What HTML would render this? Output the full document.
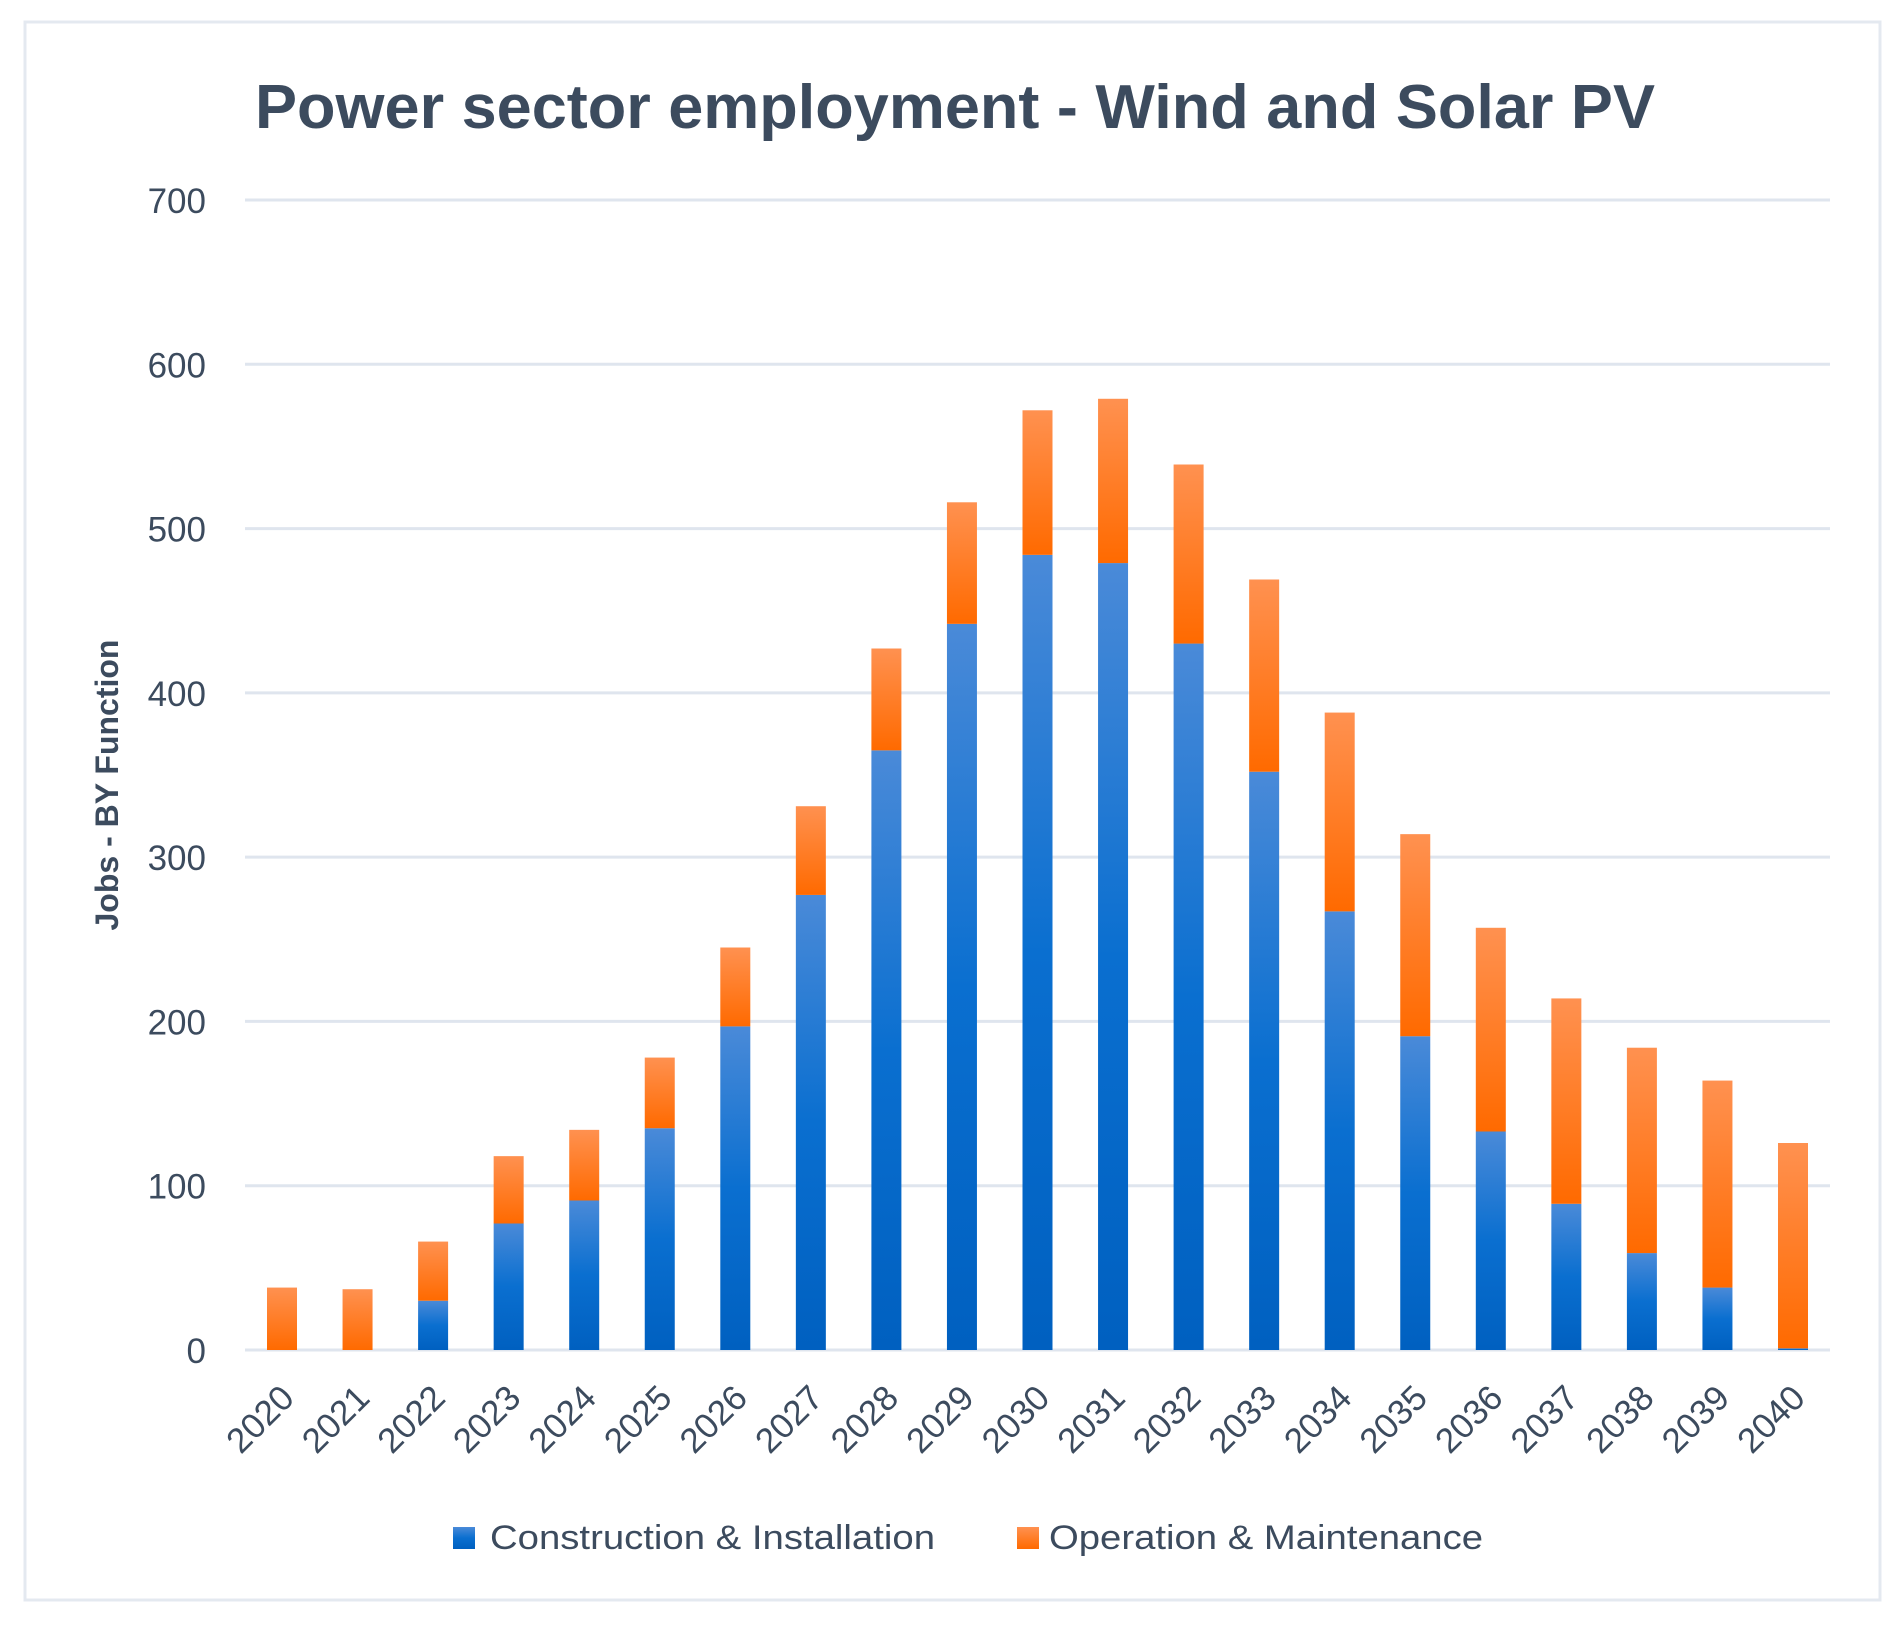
<!DOCTYPE html>
<html><head><meta charset="utf-8"><style>
html,body{margin:0;padding:0;background:#fff;}
svg{display:block;font-family:"Liberation Sans",sans-serif;}
</style></head><body>
<svg id="chart" width="1901" height="1625">
<defs>
<linearGradient id="gb" x1="0" y1="0" x2="0" y2="1"><stop offset="0" stop-color="#4a8ad8"/><stop offset="0.5" stop-color="#0a6fd0"/><stop offset="1" stop-color="#0060c0"/></linearGradient>
<linearGradient id="go" x1="0" y1="0" x2="0" y2="1"><stop offset="0" stop-color="#ff9150"/><stop offset="1" stop-color="#ff6a00"/></linearGradient>
</defs>
<rect x="25" y="22" width="1855" height="1578" fill="#fff" stroke="#e4e9f0" stroke-width="3"/>
<text x="255" y="128" font-size="62" font-weight="bold" fill="#3c4b5e" textLength="1400" lengthAdjust="spacingAndGlyphs">Power sector employment - Wind and Solar PV</text>
<text transform="translate(118,785) rotate(-90)" text-anchor="middle" font-size="32" font-weight="bold" fill="#3c4b5e">Jobs - BY Function</text>
<g id="grid"></g><g id="bars"></g><g id="xlabels"></g>
<rect x="453" y="1527" width="22" height="22" fill="url(#gb)"/>
<text x="490" y="1549" font-size="34" fill="#3c4b5e" textLength="445" lengthAdjust="spacingAndGlyphs">Construction &amp; Installation</text>
<rect x="1017" y="1527" width="22" height="22" fill="url(#go)"/>
<text x="1049" y="1549" font-size="34" fill="#3c4b5e" textLength="434" lengthAdjust="spacingAndGlyphs">Operation &amp; Maintenance</text>
</svg>
<script>
const categories = ["2020","2021","2022","2023","2024","2025","2026","2027","2028","2029","2030","2031","2032","2033","2034","2035","2036","2037","2038","2039","2040"];
const construction = [0,0,30,77,91,135,197,277,365,442,484,479,430,352,267,191,133,89,59,38,1];
const operation = [38,37,36,41,43,43,48,54,62,74,88,100,109,117,121,123,124,125,125,126,125];
const yTicks = [0,100,200,300,400,500,600,700];

const NS = "http://www.w3.org/2000/svg";
const y0 = 1350, yTop = 200, yMax = 700, xLeft = 245, xRight = 1830;
const x0 = 282, step = (1793 - 282) / 20, bw = 30;
function yScale(v){ return y0 - (v / yMax) * (y0 - yTop); }
function xScale(i){ return x0 + i * step; }
function mk(tag, attrs){ const e = document.createElementNS(NS, tag); for (const k in attrs) e.setAttribute(k, attrs[k]); return e; }

const grid = document.getElementById('grid');
yTicks.forEach(t => {
  const l = mk('line', {x1: xLeft, x2: xRight, y1: yScale(t), y2: yScale(t), stroke: '#dfe5ee', 'stroke-width': 3});
  
  
  grid.appendChild(l);
  const tx = mk('text', {x: 206, y: yScale(t) + 13, 'text-anchor': 'end', 'font-size': 35, fill: '#3c4b5e'});
  tx.textContent = t;
  
  
  grid.appendChild(tx);
});

const bars = document.getElementById('bars');
const xl = document.getElementById('xlabels');
categories.forEach((c, i) => {
  const cx = xScale(i);
  const yc = yScale(construction[i]);
  const b = mk('rect', {x: cx - bw/2, y: yc, width: bw, height: y0 - yc, fill: 'url(#gb)'});
  
  
  bars.appendChild(b);
  const yo = yScale(construction[i] + operation[i]);
  const o = mk('rect', {x: cx - bw/2, y: yo, width: bw, height: yc - yo, fill: 'url(#go)'});
  
  
  bars.appendChild(o);
  const t = mk('text', {transform: 'translate(' + (cx + 14) + ',1400) rotate(-45)', 'text-anchor': 'end', 'font-size': 35, fill: '#3c4b5e'});
  t.textContent = c;
  
  
  xl.appendChild(t);
});
</script>
</body></html>
